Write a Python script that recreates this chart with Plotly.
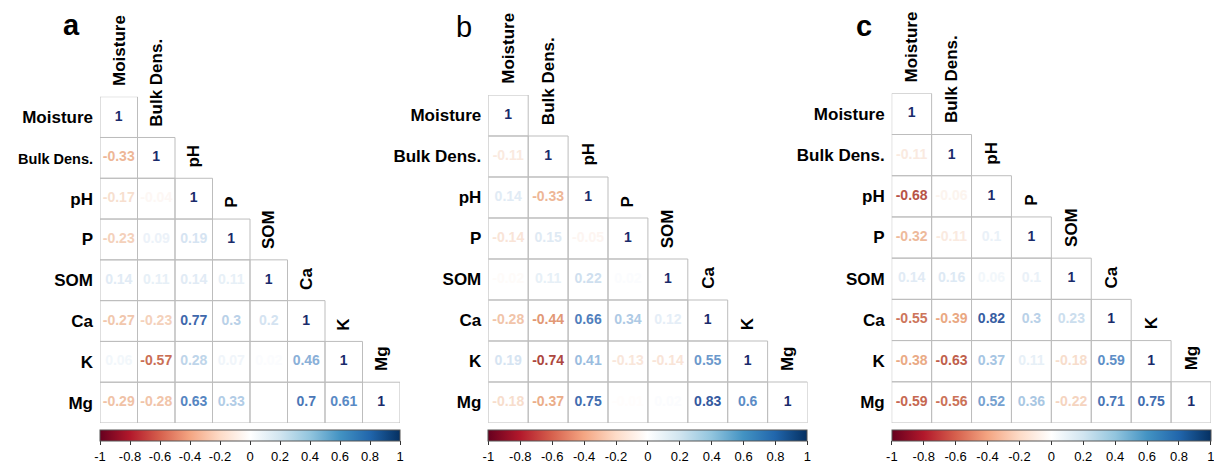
import plotly.graph_objects as go
from plotly.colors import sample_colorscale

# page body has an 8px margin; lay the figure out in screen pixels
OFF = 8
FW, FH = 1222 - OFF, 465 - OFF

labels = ["Moisture", "Bulk Dens.", "pH", "P", "SOM", "Ca", "K", "Mg"]
tick_vals = [-1, -0.8, -0.6, -0.4, -0.2, 0, 0.2, 0.4, 0.6, 0.8, 1]
tick_text = ["-1", "-0.8", "-0.6", "-0.4", "-0.2", "0", "0.2", "0.4", "0.6", "0.8", "1"]

# lower-triangle correlation values (row i, columns 0..i)
corr_a = [
    [1],
    [-0.33, 1],
    [-0.17, -0.04, 1],
    [-0.23, 0.09, 0.19, 1],
    [0.14, 0.11, 0.14, 0.11, 1],
    [-0.27, -0.23, 0.77, 0.3, 0.2, 1],
    [0.06, -0.57, 0.28, 0.07, 0.02, 0.46, 1],
    [-0.29, -0.28, 0.63, 0.33, 0.0, 0.7, 0.61, 1],
]
corr_b = [
    [1],
    [-0.11, 1],
    [0.14, -0.33, 1],
    [-0.14, 0.15, -0.05, 1],
    [-0.02, 0.11, 0.22, 0.02, 1],
    [-0.28, -0.44, 0.66, 0.34, 0.12, 1],
    [0.19, -0.74, 0.41, -0.13, -0.14, 0.55, 1],
    [-0.18, -0.37, 0.75, -0.01, 0.02, 0.83, 0.6, 1],
]
corr_c = [
    [1],
    [-0.11, 1],
    [-0.68, -0.06, 1],
    [-0.32, -0.11, 0.1, 1],
    [0.14, 0.16, 0.06, 0.1, 1],
    [-0.55, -0.39, 0.82, 0.3, 0.23, 1],
    [-0.38, -0.63, 0.37, 0.11, -0.18, 0.59, 1],
    [-0.59, -0.56, 0.52, 0.36, -0.22, 0.71, 0.75, 1],
]
panel_letters = ["a", "b", "c"]

rdbu_hex = ["#67001F", "#B2182B", "#D6604D", "#F4A582", "#FDDBC7", "#FFFFFF",
            "#D1E5F0", "#92C5DE", "#4393C3", "#2166AC", "#053061"]
cscale = [[i / 10, c] for i, c in enumerate(rdbu_hex)]
# slightly softened version of the same ramp for the printed numbers
text_hex = ["#5A1030", "#A33A3A", "#C4654F", "#E9A57E", "#F6D9C6", "#FFFFFF",
            "#D4E3F1", "#9EC0E0", "#5B8CC6", "#3A62A8", "#1A2B6B"]
text_scale = [[i / 10, c] for i, c in enumerate(text_hex)]

# panel boxes in screen pixels: (left, right, top, bottom)
boxes = [(100, 400, 96.7, 423), (488.3, 807.5, 95, 423), (891.7, 1211, 93.3, 423)]
letter_pos = [(71.5, 25.5), (464, 27), (864, 26)]
letter_bold = [True, False, True]
# the left-most panel has less room, its longest row label is set tighter
long_label_size = [14.5, None, None]

FONT = "Arial, Liberation Sans, sans-serif"

def X(px):
    return (px - OFF) / FW

def Y(py):
    return 1 - (py - OFF) / FH

def fmt(v):
    s = f"{v:.2f}".rstrip("0").rstrip(".")
    return "0" if s in ("-0", "") else s

fig = go.Figure()
shapes = []
annotations = []
layout_axes = {}

for p, corr in enumerate([corr_a, corr_b, corr_c]):
    n = len(labels)
    xs, ys, vals, txt, cols = [], [], [], [], []
    for i, row in enumerate(corr):
        for j, v in enumerate(row):
            xs.append(j)
            ys.append(i)
            vals.append(v)
            txt.append(fmt(v))
            cols.append(sample_colorscale(text_scale, [(v + 1) / 2])[0])
    sfx = "" if p == 0 else str(p + 1)
    xa, ya = "x" + sfx, "y" + sfx
    ca = "coloraxis" + sfx
    fig.add_trace(go.Scatter(
        x=xs, y=ys, mode="markers+text", text=txt, textposition="middle center",
        textfont=dict(color=cols, size=14, family=FONT, weight="bold"),
        marker=dict(size=1, color=vals, coloraxis=ca, opacity=0),
        xaxis=xa, yaxis=ya, hoverinfo="skip", showlegend=False,
    ))
    row_text = list(labels)
    if long_label_size[p]:
        row_text[1] = f'<span style="font-size:{long_label_size[p]}px">{labels[1]}</span>'
    l, r, t, b = boxes[p]
    layout_axes["xaxis" + sfx] = dict(
        domain=[X(l), X(r)], range=[-0.5, n - 0.5], showgrid=False,
        zeroline=False, showticklabels=False, showline=False, fixedrange=True,
        anchor=ya)
    layout_axes["yaxis" + sfx] = dict(
        domain=[Y(b), Y(t)], range=[n - 0.5, -0.5], showgrid=False,
        zeroline=False, showline=False, tickmode="array",
        tickvals=list(range(n)), ticktext=row_text, ticks="",
        ticklabelstandoff=6,
        tickfont=dict(size=17, family=FONT, color="black", weight="bold"),
        fixedrange=True, anchor=xa)
    layout_axes[ca] = dict(
        colorscale=cscale, cmin=-1, cmax=1,
        colorbar=dict(
            orientation="h", x=X((l + r) / 2), xanchor="center",
            y=Y(429.5), yanchor="top", len=(r - l) / FW, lenmode="fraction",
            thickness=11, xpad=0, ypad=0, outlinecolor="#555", outlinewidth=1,
            tickmode="array", tickvals=tick_vals, ticktext=tick_text,
            ticks="outside", ticklen=4, tickcolor="#333",
            tickfont=dict(size=13, family=FONT, color="black"),
        ))
    # cell borders
    for i, row in enumerate(corr):
        for j in range(len(row)):
            shapes.append(dict(type="rect", xref=xa, yref=ya,
                               x0=j - 0.5, x1=j + 0.5, y0=i - 0.5, y1=i + 0.5,
                               line=dict(color="#BDBDBD", width=1),
                               fillcolor="rgba(0,0,0,0)", layer="below"))
    # column labels above diagonal cells
    for j, lab in enumerate(labels):
        annotations.append(dict(
            x=j, y=j - 0.5, xref=xa, yref=ya, text=lab, textangle=-90,
            showarrow=False, xanchor="center", yanchor="bottom", yshift=9,
            font=dict(size=17, family=FONT, color="black", weight="bold")))
    lx, ly = letter_pos[p]
    annotations.append(dict(
        x=X(lx), y=Y(ly), xref="paper", yref="paper", text=panel_letters[p],
        showarrow=False, xanchor="center", yanchor="middle",
        font=dict(size=29, family=FONT, color="black",
                  weight="bold" if letter_bold[p] else "normal")))

fig.update_layout(
    width=FW, height=FH, margin=dict(l=0, r=0, t=0, b=0, autoexpand=False),
    paper_bgcolor="white", plot_bgcolor="white",
    shapes=shapes, annotations=annotations, **layout_axes)

fig.write_html("out.html")
